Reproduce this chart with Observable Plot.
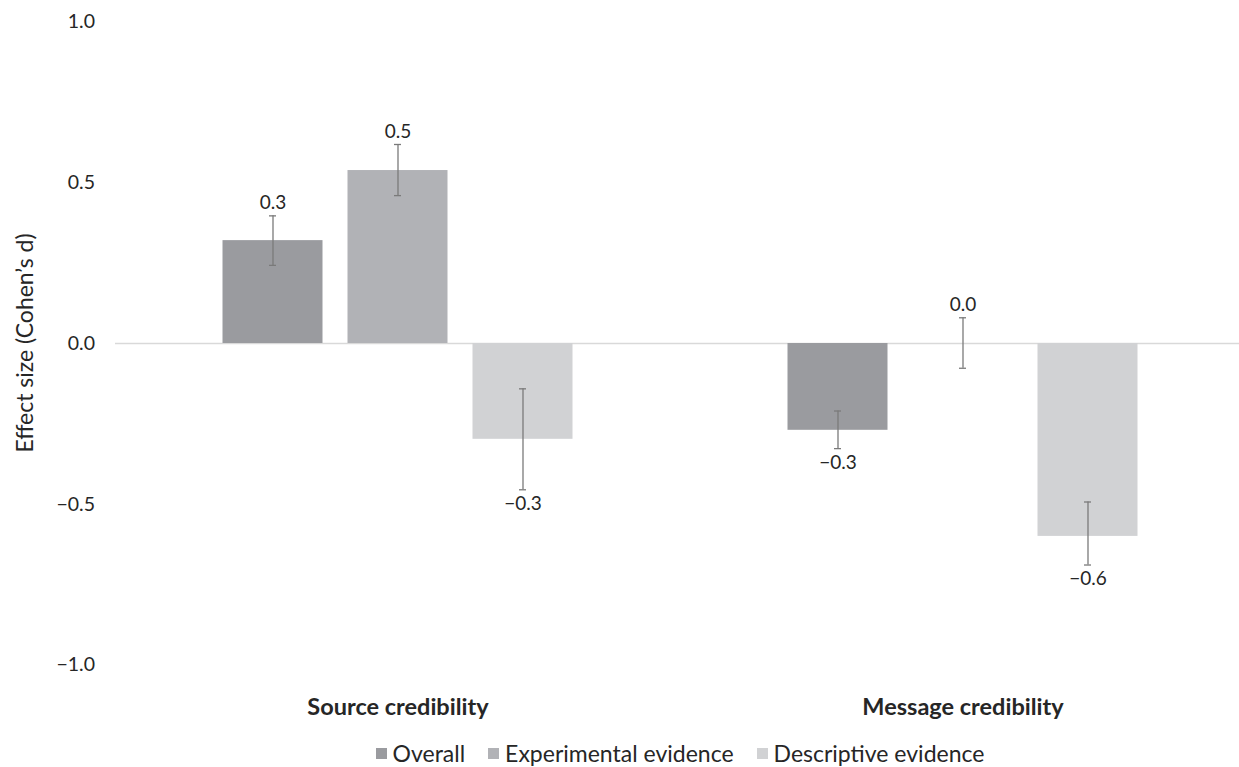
<!DOCTYPE html>
<html>
<head>
<meta charset="utf-8">
<script src="https://cdn.jsdelivr.net/npm/d3@7"></script>
<script src="https://cdn.jsdelivr.net/npm/@observablehq/plot@0.6"></script>
<style>
  body { margin: 0; background: #fff; font-family: Lato, "Open Sans", sans-serif; color: #262626; overflow: hidden; }
  #wrap { position: relative; width: 1239px; height: 767px; overflow: hidden; }
  #ylabel { position: absolute; left: 24px; top: 343px; transform: translate(-50%, -50%) rotate(-90deg); white-space: nowrap; font-size: 23px; line-height: 23px; }
  #legend { position: absolute; left: 0; top: 741.5px; width: 1239px; box-sizing: border-box; padding-left: 121px; display: flex; justify-content: center; gap: 23px; font-size: 23px; line-height: 23px; }
  #legend .item { display: flex; align-items: center; gap: 6px; }
  #legend .sw { width: 11px; height: 11px; display: inline-block; }
</style>
</head>
<body>
<div id="wrap">
  <div id="chart"></div>
  <div id="ylabel">Effect size (Cohen’s d)</div>
  <div id="legend"></div>
</div>
<script>
const groups = ["Source credibility", "Message credibility"];
const series = ["Overall", "Experimental evidence", "Descriptive evidence"];
const colors = ["#9a9b9f", "#b1b2b6", "#d1d2d4"];
const sourceValues = [0.32, 0.538, -0.298];
const sourceLower = [0.243, 0.46, -0.455];
const sourceUpper = [0.397, 0.619, -0.141];
const messageValues = [-0.27, 0.0, -0.6];
const messageLower = [-0.327, -0.077, -0.689];
const messageUpper = [-0.21, 0.08, -0.493];
const yTicks = [-1, -0.5, 0, 0.5, 1];

const data = [];
[[sourceValues, sourceLower, sourceUpper], [messageValues, messageLower, messageUpper]].forEach(([v, lo, hi], gi) => {
  series.forEach((s, si) => {
    data.push({group: groups[gi], series: s, value: v[si], lo: lo[si], hi: hi[si]});
  });
});
const fmt = d3.format(".1f");

const chart = Plot.plot({
  width: 1239,
  height: 730,
  marginLeft: 114.5,
  marginRight: -5.5,
  marginTop: 21.5,
  marginBottom: 65.5,
  style: {fontFamily: "Lato, 'Open Sans', sans-serif", fontSize: "19px", color: "#262626", background: "#fff", overflow: "hidden"},
  fx: {domain: groups, padding: 0, label: null},
  x: {domain: series, paddingInner: 0.2, paddingOuter: 0.851, axis: null},
  y: {domain: [-1, 1], label: null},
  color: {domain: series, range: colors},
  marks: [
    Plot.ruleY([0], {stroke: "#d9d9d9", strokeWidth: 1.5}),
    Plot.barY(data, {fx: "group", x: "series", y: "value", fill: "series"}),
    Plot.ruleX(data, {fx: "group", x: "series", y1: "lo", y2: "hi", stroke: "#7a7a7a", strokeWidth: 1.3}),
    Plot.tickY(data, {fx: "group", x: "series", y: "lo", stroke: "#7a7a7a", strokeWidth: 1.3, insetLeft: 46.5, insetRight: 46.5}),
    Plot.tickY(data, {fx: "group", x: "series", y: "hi", stroke: "#7a7a7a", strokeWidth: 1.3, insetLeft: 46.5, insetRight: 46.5}),
    Plot.text(data.filter(d => d.value >= 0), {fx: "group", x: "series", y: "hi", text: d => fmt(d.value), dy: -13, fill: "#262626", fontSize: 19}),
    Plot.text(data.filter(d => d.value < 0), {fx: "group", x: "series", y: "lo", text: d => fmt(d.value), dy: 14, fill: "#262626", fontSize: 19}),
    Plot.axisY({ticks: yTicks, tickSize: 0, tickPadding: 20.5, tickFormat: fmt, label: null, fontSize: 19.5}),
    Plot.axisFx({anchor: "bottom", tickSize: 0, tickPadding: 33, label: null, fontWeight: "bold", fontSize: 23.5})
  ]
});
document.getElementById("chart").appendChild(chart);

const legend = document.getElementById("legend");
series.forEach((s, i) => {
  const item = document.createElement("span");
  item.className = "item";
  const sw = document.createElement("span");
  sw.className = "sw";
  sw.style.background = colors[i];
  const t = document.createElement("span");
  t.textContent = s;
  item.appendChild(sw);
  item.appendChild(t);
  legend.appendChild(item);
});
</script>
</body>
</html>
